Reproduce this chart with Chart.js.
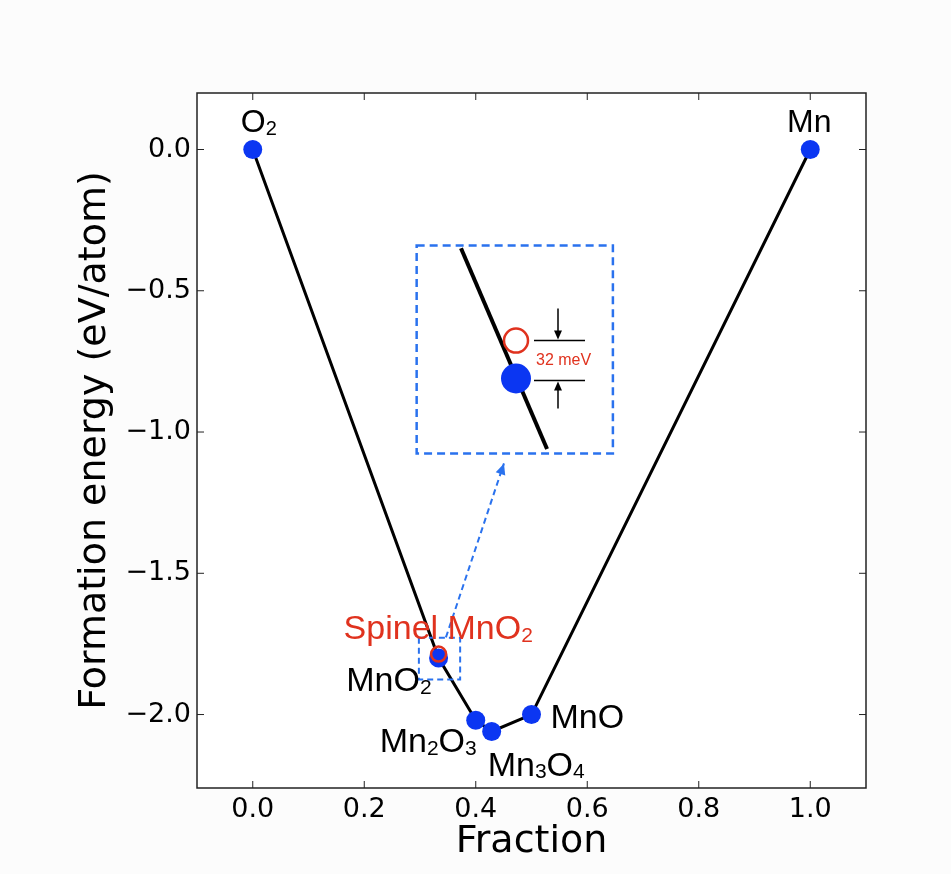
<!DOCTYPE html>
<html>
<head>
<meta charset="utf-8">
<script src="https://cdn.jsdelivr.net/npm/chart.js@4.4.1/dist/chart.umd.min.js"></script>
<style>
  html, body { margin: 0; padding: 0; background: #fcfcfc; }
  #wrap { width: 951px; height: 874px; }
</style>
</head>
<body>
<div id="wrap"><canvas id="myChart" width="951" height="874"></canvas></div>
<script>
// convex hull of Mn-O formation energies
const compounds = ['O_2', 'MnO_2', 'Mn_2O_3', 'Mn_3O_4', 'MnO', 'Mn'];
const fraction = [0, 1 / 3, 0.4, 3 / 7, 0.5, 1];
const formationEnergy = [0, -1.80, -2.02, -2.06, -2.00, 0];
const spinelFraction = [1 / 3];
const spinelEnergy = [-1.786];
const xTickValues = [0, 0.2, 0.4, 0.6, 0.8, 1.0];
const yTickValues = [0, -0.5, -1.0, -1.5, -2.0];
// line segment shown inside the zoomed inset
const insetLineX = [0.3132, 0.3447];
const insetLineY = [-1.752, -1.826];

const BLUE = '#0b36f2';
const RED = '#e0321e';
const DASH = '#2a72ee';

// label placement: [compound index, dx, dy, align, size]
const labelSpots = [
  [0, 6, -29, 'center', 32],
  [5, -1, -29, 'center', 32],
  [1, -7, 21, 'right', 34],
  [2, 1, 20, 'right', 34],
  [3, -4, 32, 'left', 34],
  [4, 19, 1, 'left', 34]
];

const fmt = v => v.toFixed(1).replace('-', '\u2212');

function richText(ctx, text, x, y, align, size, color) {
  const segs = [];
  for (let i = 0; i < text.length; i++) {
    if (text[i] === '_') { segs.push([text[i + 1], true]); i++; }
    else segs.push([text[i], false]);
  }
  const big = size + 'px "Liberation Sans", Arial, sans-serif';
  const small = Math.round(size * 0.62) + 'px "Liberation Sans", Arial, sans-serif';
  let w = 0;
  segs.forEach(s => { ctx.font = s[1] ? small : big; s.push(ctx.measureText(s[0]).width); w += s[2]; });
  let cx = align === 'center' ? x - w / 2 : align === 'right' ? x - w : x;
  ctx.fillStyle = color;
  ctx.textBaseline = 'alphabetic';
  ctx.textAlign = 'left';
  const base = y + size * 0.36;
  segs.forEach(s => {
    ctx.font = s[1] ? small : big;
    ctx.fillText(s[0], cx, s[1] ? base + size * 0.08 : base);
    cx += s[2];
  });
}

function arrowHead(ctx, x0, y0, x1, y1, len, half) {
  const a = Math.atan2(y1 - y0, x1 - x0);
  ctx.beginPath();
  ctx.moveTo(x1, y1);
  ctx.lineTo(x1 - len * Math.cos(a) + half * Math.sin(a), y1 - len * Math.sin(a) - half * Math.cos(a));
  ctx.lineTo(x1 - len * Math.cos(a) - half * Math.sin(a), y1 - len * Math.sin(a) + half * Math.cos(a));
  ctx.closePath();
  ctx.fill();
}

// where MnO2 shows up inside the inset, and how much it is magnified
const insetAnchor = { x: 0.4722, y: -0.8106 };
const zoomX = 4.9, zoomY = 9.6;

const decorPlugin = {
  id: 'decor',
  beforeDraw(chart) {
    const { ctx, chartArea: a } = chart;
    ctx.save();
    ctx.fillStyle = '#fcfcfc';
    ctx.fillRect(0, 0, chart.width, chart.height);
    ctx.fillStyle = '#ffffff';
    ctx.fillRect(a.left, a.top, a.right - a.left, a.bottom - a.top);
    ctx.restore();
  },
  afterDatasetsDraw(chart) {
    const { ctx, chartArea: a } = chart;
    const sx = chart.scales.x, sy = chart.scales.y;
    const P = (x, y) => [sx.getPixelForValue(x), sy.getPixelForValue(y)];
    const I = (x, y) => P(insetAnchor.x + (x - fraction[1]) * zoomX, insetAnchor.y + (y - formationEnergy[1]) * zoomY);
    ctx.save();

    // frame + inward ticks
    ctx.strokeStyle = '#222';
    ctx.lineWidth = 1.5;
    ctx.strokeRect(a.left, a.top, a.right - a.left, a.bottom - a.top);
    ctx.lineWidth = 1;
    ctx.beginPath();
    xTickValues.forEach(v => {
      const px = sx.getPixelForValue(v);
      ctx.moveTo(px, a.bottom); ctx.lineTo(px, a.bottom - 7);
      ctx.moveTo(px, a.top); ctx.lineTo(px, a.top + 7);
    });
    yTickValues.forEach(v => {
      const py = sy.getPixelForValue(v);
      ctx.moveTo(a.left, py); ctx.lineTo(a.left + 7, py);
      ctx.moveTo(a.right, py); ctx.lineTo(a.right - 7, py);
    });
    ctx.stroke();

    // small dashed box around MnO2 and dashed arrow up to the inset
    ctx.strokeStyle = DASH;
    ctx.fillStyle = DASH;
    ctx.lineWidth = 2;
    ctx.setLineDash([6, 4]);
    let b0 = P(0.298, -1.728), b1 = P(0.372, -1.876);
    ctx.strokeRect(b0[0], b0[1], b1[0] - b0[0], b1[1] - b0[1]);
    const s0 = P(0.3465, -1.727), s1 = P(0.4506, -1.111);
    ctx.beginPath(); ctx.moveTo(s0[0], s0[1]); ctx.lineTo(s1[0], s1[1]); ctx.stroke();
    ctx.setLineDash([]);
    arrowHead(ctx, s0[0], s0[1], s1[0], s1[1], 11, 5);

    // inset box
    ctx.lineWidth = 2.5;
    ctx.setLineDash([8, 5]);
    b0 = P(0.294, -0.34); b1 = P(0.646, -1.076);
    ctx.strokeRect(b0[0], b0[1], b1[0] - b0[0], b1[1] - b0[1]);
    ctx.setLineDash([]);

    // inset content
    const l0 = I(insetLineX[0], insetLineY[0]), l1 = I(insetLineX[1], insetLineY[1]);
    ctx.strokeStyle = '#000';
    ctx.lineWidth = 4;
    ctx.beginPath(); ctx.moveTo(l0[0], l0[1]); ctx.lineTo(l1[0], l1[1]); ctx.stroke();
    const bp = I(fraction[1], formationEnergy[1]);
    const rp = I(spinelFraction[0], spinelEnergy[0]);
    ctx.fillStyle = BLUE;
    ctx.beginPath(); ctx.arc(bp[0], bp[1], 15, 0, Math.PI * 2); ctx.fill();
    ctx.strokeStyle = RED;
    ctx.lineWidth = 2.5;
    ctx.fillStyle = '#fff';
    ctx.beginPath(); ctx.arc(rp[0], rp[1], 12, 0, Math.PI * 2); ctx.fill(); ctx.stroke();
    // 32 meV bracket
    ctx.strokeStyle = '#000';
    ctx.fillStyle = '#000';
    ctx.lineWidth = 1.5;
    ctx.beginPath();
    ctx.moveTo(bp[0] + 18, rp[1]); ctx.lineTo(bp[0] + 69, rp[1]);
    ctx.moveTo(bp[0] + 18, bp[1] + 2); ctx.lineTo(bp[0] + 69, bp[1] + 2);
    ctx.moveTo(bp[0] + 42, rp[1] - 32); ctx.lineTo(bp[0] + 42, rp[1] - 6);
    ctx.moveTo(bp[0] + 42, bp[1] + 30); ctx.lineTo(bp[0] + 42, bp[1] + 8);
    ctx.stroke();
    arrowHead(ctx, bp[0] + 42, rp[1] - 32, bp[0] + 42, rp[1] - 1, 9, 4);
    arrowHead(ctx, bp[0] + 42, bp[1] + 30, bp[0] + 42, bp[1] + 3, 9, 4);
    ctx.fillStyle = RED;
    ctx.font = '16px "Liberation Sans", Arial, sans-serif';
    ctx.textAlign = 'left';
    ctx.textBaseline = 'middle';
    ctx.fillText('32 meV', bp[0] + 20, (rp[1] + bp[1]) / 2 + 1);

    // compound labels
    labelSpots.forEach(([i, dx, dy, align, size]) => {
      const p = P(fraction[i], formationEnergy[i]);
      richText(ctx, compounds[i], p[0] + dx, p[1] + dy, align, size, '#000');
    });
    const sp = P(fraction[1], formationEnergy[1]);
    richText(ctx, 'Spinel MnO_2', sp[0] - 95, sp[1] - 31, 'left', 34, RED);

    ctx.restore();
  }
};

new Chart(document.getElementById('myChart'), {
  type: 'scatter',
  data: {
    datasets: [
      {
        label: 'Spinel MnO2',
        data: spinelFraction.map((x, i) => ({ x: x, y: spinelEnergy[i] })),
        pointRadius: 7.5,
        pointBorderWidth: 2.5,
        pointBorderColor: RED,
        pointBackgroundColor: 'rgba(0,0,0,0)',
        showLine: false
      },
      {
        label: 'Hull',
        data: fraction.map((x, i) => ({ x: x, y: formationEnergy[i] })),
        showLine: true,
        borderColor: '#000',
        borderWidth: 3,
        pointRadius: 9.5,
        pointBackgroundColor: BLUE,
        pointBorderColor: BLUE,
        pointBorderWidth: 0,
        clip: false
      }
    ]
  },
  options: {
    responsive: false,
    animation: false,
    devicePixelRatio: 1,
    layout: { padding: { left: 0, right: 85, top: 93, bottom: 0 } },
    plugins: { legend: { display: false }, tooltip: { enabled: false } },
    scales: {
      x: {
        type: 'linear',
        min: -0.1,
        max: 1.1,
        grid: { display: false, drawTicks: false },
        border: { display: false },
        afterBuildTicks: s => { s.ticks = xTickValues.map(v => ({ value: v })); },
        afterFit: s => { s.height = 86; },
        ticks: {
          autoSkip: false,
          maxRotation: 0,
          padding: 6,
          color: '#000',
          font: { family: 'DejaVu Sans', size: 27 },
          callback: v => fmt(v)
        },
        title: {
          display: true,
          text: 'Fraction',
          color: '#000',
          font: { family: 'DejaVu Sans', size: 38 },
          padding: { top: 0, bottom: 9 }
        }
      },
      y: {
        type: 'linear',
        min: -2.26,
        max: 0.2,
        grid: { display: false, drawTicks: false },
        border: { display: false },
        afterBuildTicks: s => { s.ticks = yTickValues.map(v => ({ value: v })); },
        afterFit: s => { s.width = 197; },
        ticks: {
          autoSkip: false,
          padding: 6,
          color: '#000',
          font: { family: 'DejaVu Sans', size: 27 },
          callback: v => fmt(v)
        },
        title: {
          display: true,
          text: 'Formation energy (eV/atom)',
          color: '#000',
          font: { family: 'DejaVu Sans', size: 38 },
          padding: { top: 72, bottom: 0 }
        }
      }
    }
  },
  plugins: [decorPlugin]
});
</script>
</body>
</html>
